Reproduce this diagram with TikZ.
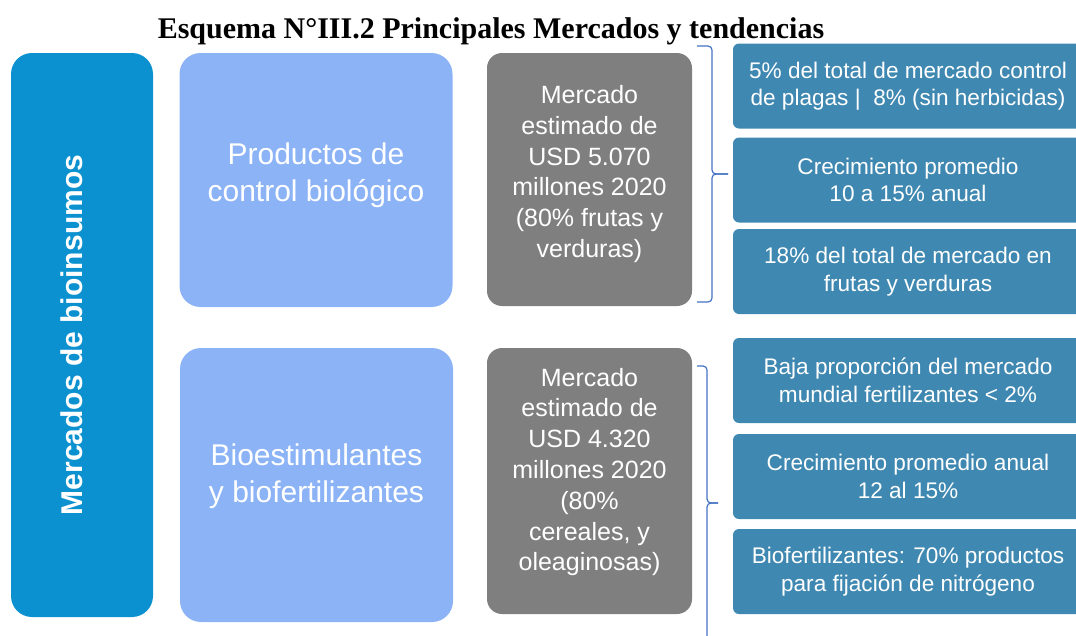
\documentclass[tikz,border=0pt]{standalone}
\usepackage{fontspec}
\setmainfont{Liberation Sans}
\newfontfamily\tituloserif{Liberation Serif}

\definecolor{azulfuerte}{RGB}{12,145,208}
\definecolor{azulclaro}{RGB}{139,179,246}
\definecolor{grismonto}{RGB}{127,127,127}
\definecolor{azulgris}{RGB}{63,136,177}
\definecolor{colorllave}{RGB}{68,114,196}

\begin{document}
\begin{tikzpicture}[
        x=1pt, y=-1pt, % coordenadas en pixeles, y hacia abajo
        caja/.style={draw=none, fill=#1, inner sep=0pt},
        mercado/.style={caja=azulfuerte, rounded corners=21pt, minimum width=142pt, minimum height=564pt},
        grupo/.style={caja=azulclaro, rounded corners=21pt, minimum width=273pt}, % cajas celestes
        monto/.style={caja=grismonto, rounded corners=15pt, minimum width=205pt}, % cajas grises
        dato/.style={caja=azulgris, rounded corners=6pt, minimum width=350pt, minimum height=85pt,
                text=white, align=center, font=\fontsize{22.6}{27.5}\selectfont},
        grupotxt/.style={text=white, align=center, inner sep=0pt, font=\fontsize{30}{37.5}\selectfont},
        montotxt/.style={text=white, align=center, inner sep=0pt, font=\fontsize{25}{30.8}\selectfont},
        llave/.style={draw=colorllave, line width=1.2pt, rounded corners=4pt}, % llaves
    ]
    \clip (0,0) rectangle (1076,635);

    \node[anchor=base, font=\tituloserif\bfseries\fontsize{30}{36}\selectfont] (titulo) at (491,38)
        {Esquema N°III.2 Principales Mercados y tendencias};

    \node[mercado] (mercados) at (82,335) {};
    \node[rotate=90, text=white, inner sep=0pt, font=\bfseries\fontsize{30}{36}\selectfont] (mercadostxt) at (72,335)
        {Mercados de bioinsumos};

    % control biologico
    \node[grupo, minimum height=254pt] (control) at (316,180) {};
    \node[grupotxt] (controltxt) at (316,175) {Productos de\\control biológico};
    \node[monto, minimum height=253pt] (monto1) at (589.5,179.5) {};
    \node[montotxt] (monto1txt) at (589.5,174) {Mercado\\estimado de\\USD 5.070\\millones 2020\\(80\% frutas y\\verduras)};
    \coordinate (llave1a) at (697,46);
    \coordinate (llave1p) at (728,174);
    \coordinate (llave1b) at (697,302);
    \draw[llave] (llave1a) -- ++(15,0) |- (llave1p);
    \draw[llave] (llave1b) -- ++(15,0) |- (llave1p);
    \node[dato] (dato1) at (908,86) {5\% del total de mercado control\\de plagas |~ 8\% (sin herbicidas)};
    \node[dato] (dato2) at (908,180) {Crecimiento promedio\\10 a 15\% anual};
    \node[dato] (dato3) at (908,271.5) {18\% del total de mercado en\\frutas y verduras};

    % bioestimulantes
    \node[grupo, minimum height=274pt] (bioest) at (316.5,485) {};
    \node[grupotxt] (bioesttxt) at (316.5,476) {Bioestimulantes\\y biofertilizantes};
    \node[monto, minimum height=266pt] (monto2) at (589.5,481) {};
    \node[montotxt] (monto2txt) at (589.5,472) {Mercado\\estimado de\\USD 4.320\\millones 2020\\(80\%\\cereales, y\\oleaginosas)};
    \coordinate (llave2a) at (697,366);
    \coordinate (llave2p) at (718,503);
    \coordinate (llave2b) at (707,640);
    \draw[llave] (llave2a) -- ++(10,0) |- (llave2p);
    \draw[llave] (llave2b) |- (llave2p);
    \node[dato] (dato4) at (908,380.5) {Baja proporción del mercado\\mundial fertilizantes < 2\%};
    \node[dato] (dato5) at (908,476.5) {Crecimiento promedio anual\\12 al 15\%};
    \node[dato] (dato6) at (908,571.5) {Biofertilizantes: 70\% productos\\para fijación de nitrógeno};
\end{tikzpicture}
\end{document}
